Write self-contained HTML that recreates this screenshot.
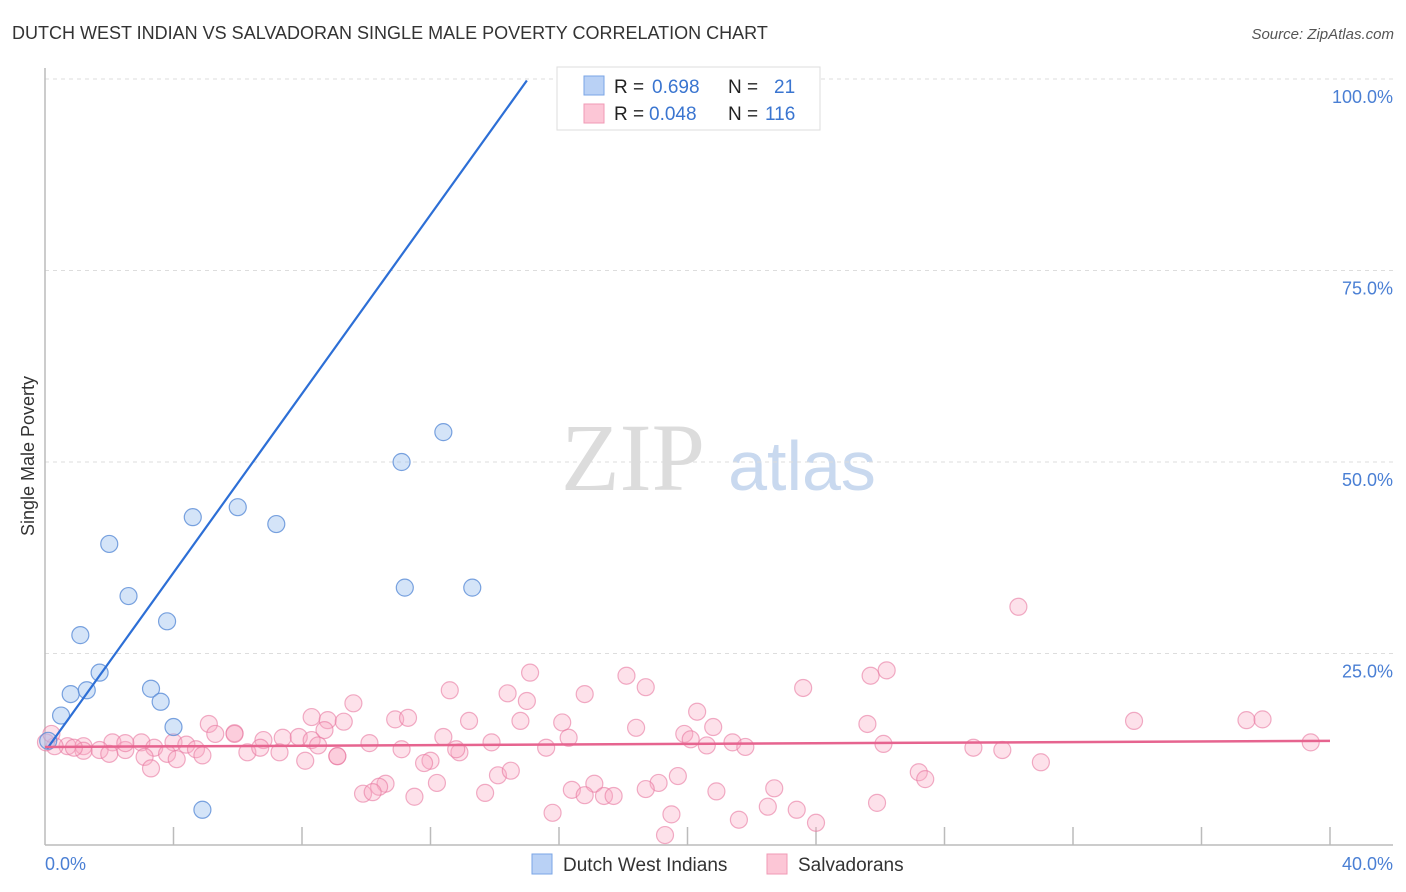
<!DOCTYPE html>
<html><head><meta charset="utf-8">
<style>
body{margin:0;background:#fff;font-family:"Liberation Sans",sans-serif;}
svg{display:block}
</style></head>
<body>
<svg id="chart" width="1406" height="892" viewBox="0 0 1406 892" xmlns="http://www.w3.org/2000/svg">
<text x="12" y="39" font-size="18" fill="#333">DUTCH WEST INDIAN VS SALVADORAN SINGLE MALE POVERTY CORRELATION CHART</text>
<text x="1394" y="39" font-size="15" fill="#555" font-style="italic" text-anchor="end">Source: ZipAtlas.com</text>
<g>
<text x="633" y="490" font-size="96" fill="#dcdcdc" font-family="Liberation Serif,serif" text-anchor="middle">ZIP</text>
<text x="802" y="490" font-size="70" fill="#c9d9ef" text-anchor="middle">atlas</text>
</g>
<g id="grid"></g>
<g id="axes"></g>
<text transform="translate(34,456) rotate(-90)" font-size="18" fill="#333" text-anchor="middle">Single Male Poverty</text>
<text x="45" y="870" font-size="18" fill="#4a7fd4">0.0%</text>
<text x="1393" y="870" font-size="18" fill="#4a7fd4" text-anchor="end">40.0%</text>
<g id="pinkPts"></g>
<g id="bluePts"></g>
<g id="lines"></g>
<g>
<rect x="557" y="67" width="263" height="63" fill="#fff" stroke="#ddd"/>
<rect x="584" y="76" width="20" height="19" fill="#b9d1f5" stroke="#7aa5e6"/>
<rect x="584" y="104" width="20" height="19" fill="#fcc6d6" stroke="#f09ab5"/>
<text x="614" y="93" font-size="19" fill="#222">R = <tspan fill="#3a75d0" x="652">0.698</tspan><tspan x="728">N = </tspan><tspan fill="#3a75d0" x="774">21</tspan></text>
<text x="614" y="120" font-size="19" fill="#222">R = <tspan fill="#3a75d0" x="649">0.048</tspan><tspan x="728">N = </tspan><tspan fill="#3a75d0" x="765">116</tspan></text>
</g>
<g>
<rect x="532" y="854" width="20" height="20" fill="#b9d1f5" stroke="#7aa5e6"/>
<text x="563" y="871" font-size="19" fill="#333">Dutch West Indians</text>
<rect x="767" y="854" width="20" height="20" fill="#fcc6d6" stroke="#f09ab5"/>
<text x="798" y="871" font-size="19" fill="#333">Salvadorans</text>
</g>
</svg>
<script>
const yTicks=[25,50,75,100];
const yTickLabels=["25.0%","50.0%","75.0%","100.0%"];
const xTicks=[0,4,8,12,16,20,24,28,32,36,40];
const blueX=[20.9,12.4,11.1,6.0,4.6,7.2,2.0,11.2,13.3,2.6,3.8,1.1,1.7,0.8,1.3,3.3,3.6,0.5,4.0,0.1,4.9];
const blueY=[100,53.9,50.0,44.1,42.8,41.9,39.3,33.6,33.6,32.5,29.2,27.4,22.5,19.7,20.2,20.4,18.7,16.9,15.4,13.6,4.6];
const pinkX=[30.3,26.2,25.7,15.1,18.1,18.7,12.6,14.4,16.8,23.6,15.0,9.6,20.3,8.3,8.8,33.9,37.4,37.9,13.2,10.9,11.3,16.1,14.8,25.6,18.4,5.1,9.3,8.7,20.8,12.4,16.3,19.9,20.1,5.9,6.8,7.4,7.9,5.9,8.3,10.1,13.9,15.6,11.1,20.6,21.4,21.8,26.1,28.9,29.8,39.4,12.9,12.8,2.1,3.0,4.0,3.4,2.5,1.7,1.2,0.7,0.3,0.03,0.2,4.4,4.7,5.3,6.3,6.7,7.3,8.5,9.1,12.0,11.8,3.8,3.1,2.0,1.2,0.9,2.5,4.9,4.1,3.3,8.1,9.1,31.0,27.2,27.4,14.1,14.5,19.7,10.6,10.4,12.2,9.9,10.2,17.1,16.4,19.1,18.7,20.9,22.7,17.4,17.7,11.5,13.7,16.8,25.9,22.5,23.4,15.8,19.5,21.6,24.0,19.3];
const pinkY=[31.1,22.8,22.1,22.5,22.1,20.6,20.2,19.8,19.7,20.5,18.8,18.5,17.4,16.7,16.3,16.2,16.3,16.4,16.2,16.4,16.6,16.0,16.2,15.8,15.3,15.8,16.1,15.0,15.4,14.1,14.0,14.5,13.8,14.6,13.7,14.0,14.1,14.5,13.7,13.3,13.4,12.7,12.5,13.0,13.4,12.8,13.2,12.7,12.4,13.4,12.1,12.5,13.4,13.4,13.4,12.7,12.4,12.4,12.9,12.9,12.9,13.4,14.5,13.1,12.5,14.5,12.1,12.7,12.1,13.0,11.6,11.0,10.7,11.9,11.5,11.9,12.3,12.7,13.3,11.7,11.2,10.0,11.0,11.6,10.8,9.5,8.6,9.1,9.7,9.0,8.0,7.6,8.1,6.7,6.9,8.0,7.2,8.1,7.3,7.0,7.4,6.4,6.4,6.3,6.8,6.5,5.5,5.0,4.6,4.2,4.0,3.3,2.9,1.3];
const blueFit=[0.07,12.6,15.0,99.8];
const pinkFit=[0,12.8,40,13.6];
const NS="http://www.w3.org/2000/svg";
const X0=45,X1=1330,Y0=845,Y100=79;
function sx(v){return X0+(X1-X0)*v/40;}
function sy(v){return Y0-(Y0-Y100)*v/100;}
function mk(tag,attrs,parent){const e=document.createElementNS(NS,tag);for(const k in attrs)e.setAttribute(k,attrs[k]);parent.appendChild(e);return e;}
const grid=document.getElementById('grid');
yTicks.forEach((t,i)=>{
 const l=mk('line',{x1:45,x2:1393,y1:sy(t),y2:sy(t),stroke:'#ddd','stroke-dasharray':'4,4'},grid);
 
 
 const tx=mk('text',{x:1393,y:sy(t)+24,'font-size':18,fill:'#4a7fd4','text-anchor':'end'},grid);
 tx.textContent=yTickLabels[i];
 
 
});
const axes=document.getElementById('axes');
const ya=mk('line',{x1:45,x2:45,y1:68,y2:845,stroke:'#bbb','stroke-width':1.5},axes);


const xa=mk('line',{x1:45,x2:1393,y1:845,y2:845,stroke:'#bbb','stroke-width':1.5},axes);


xTicks.slice(1).forEach(t=>{
 const tk=mk('line',{x1:sx(t),x2:sx(t),y1:827,y2:845,stroke:'#bbb','stroke-width':1.5},axes);
 
 
});
const pg=document.getElementById('pinkPts');
pinkX.forEach((x,i)=>{
 const c=mk('circle',{cx:sx(x),cy:sy(pinkY[i]),r:8.5,fill:'rgba(248,170,195,0.35)',stroke:'rgba(232,120,160,0.6)','stroke-width':1.2},pg);
 
 
});
const bg=document.getElementById('bluePts');
blueX.forEach((x,i)=>{
 const c=mk('circle',{cx:sx(x),cy:sy(blueY[i]),r:8.5,fill:'rgba(160,195,240,0.45)',stroke:'rgba(90,140,215,0.8)','stroke-width':1.2},bg);
 
 
});
const lg=document.getElementById('lines');
const bl=mk('line',{x1:sx(blueFit[0]),y1:sy(blueFit[1]),x2:sx(blueFit[2]),y2:sy(blueFit[3]),stroke:'#2d6fd6','stroke-width':2.2},lg);


const pl=mk('line',{x1:sx(pinkFit[0]),y1:sy(pinkFit[1]),x2:sx(pinkFit[2]),y2:sy(pinkFit[3]),stroke:'#e6648f','stroke-width':2.5},lg);


</script>
</body></html>
